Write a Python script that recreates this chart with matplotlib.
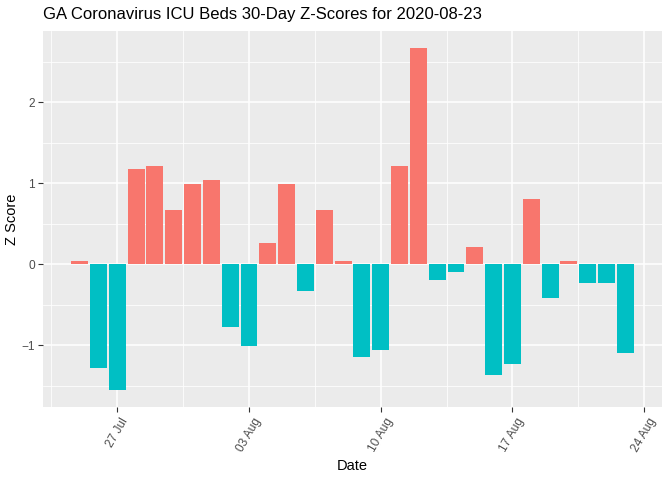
import numpy as np
import pandas as pd
import matplotlib
matplotlib.use("Agg")
import matplotlib.pyplot as plt
import matplotlib.dates as mdates

plt.rcParams['font.family'] = ['Liberation Sans', 'DejaVu Sans']

# data
start_date = '2020-07-25'
z_scores = [0.04, -1.28, -1.55, 1.18, 1.21, 0.67, 0.99, 1.04, -0.77, -1.01,
            0.26, 0.99, -0.33, 0.67, 0.04, -1.14, -1.06, 1.21, 2.67, -0.19,
            -0.095, 0.21, -1.37, -1.23, 0.81, -0.41, 0.04, -0.23, -0.23, -1.10]
dates = pd.date_range(start_date, periods=len(z_scores), freq='D')
title = 'GA Coronavirus ICU Beds 30-Day Z-Scores for 2020-08-23'

pos_col = '#F8766D'
neg_col = '#00BFC4'

fig = plt.figure(figsize=(6.72, 4.8), dpi=100)
ax = fig.add_axes([43/672, 1-407/480, (662-43)/672, (407-31)/480])
ax.set_facecolor('#EBEBEB')

z = np.array(z_scores)
cols = [pos_col if v > 0 else neg_col for v in z]
xd = mdates.date2num(dates)
ax.bar(xd, z, width=0.9, color=cols, zorder=3)

major_dates = pd.date_range('2020-07-27', '2020-08-24', freq='7D')
major = mdates.date2num(major_dates)
ax.set_xticks(major)
ax.set_xticklabels([d.strftime('%d %b') for d in major_dates], rotation=60,
                   ha='center', va='top')
minor_x = np.concatenate(([major[0] - 3.5], major[:-1] + 3.5))
ax.set_xticks(minor_x, minor=True)

ax.set_yticks([-1, 0, 1, 2])
ax.set_yticks([-1.5, -0.5, 0.5, 1.5, 2.5], minor=True)

# ggplot style expansion (5%), set after ticks
lo = xd.min() - 0.45
hi = xd.max() + 0.45
pad = (hi - lo) * 0.05
ax.set_xlim(lo - pad, hi + pad)
ylo, yhi = min(z.min(), 0), z.max()
ypad = (yhi - ylo) * 0.05
ax.set_ylim(ylo - ypad, yhi + ypad)

ax.grid(which='major', color='white', linewidth=1.1, zorder=0)
ax.grid(which='minor', color='white', linewidth=0.55, zorder=0)
ax.set_axisbelow(True)

for s in ax.spines.values():
    s.set_visible(False)

ax.tick_params(which='major', length=3.7, width=0.8, color='#333333',
               labelcolor='#4D4D4D', labelsize=8.6, pad=2)
ax.tick_params(axis='x', which='major', pad=3)
ax.tick_params(which='minor', length=0)

ax.set_xlabel('Date', fontsize=10.5, color='black', labelpad=3)
ax.set_ylabel('Z Score', fontsize=10.5, color='black', labelpad=2)
fig.text(43/672, 1-14/480, title, fontsize=12, color='black', ha='left', va='center')

fig.savefig('out.png', dpi=100)
